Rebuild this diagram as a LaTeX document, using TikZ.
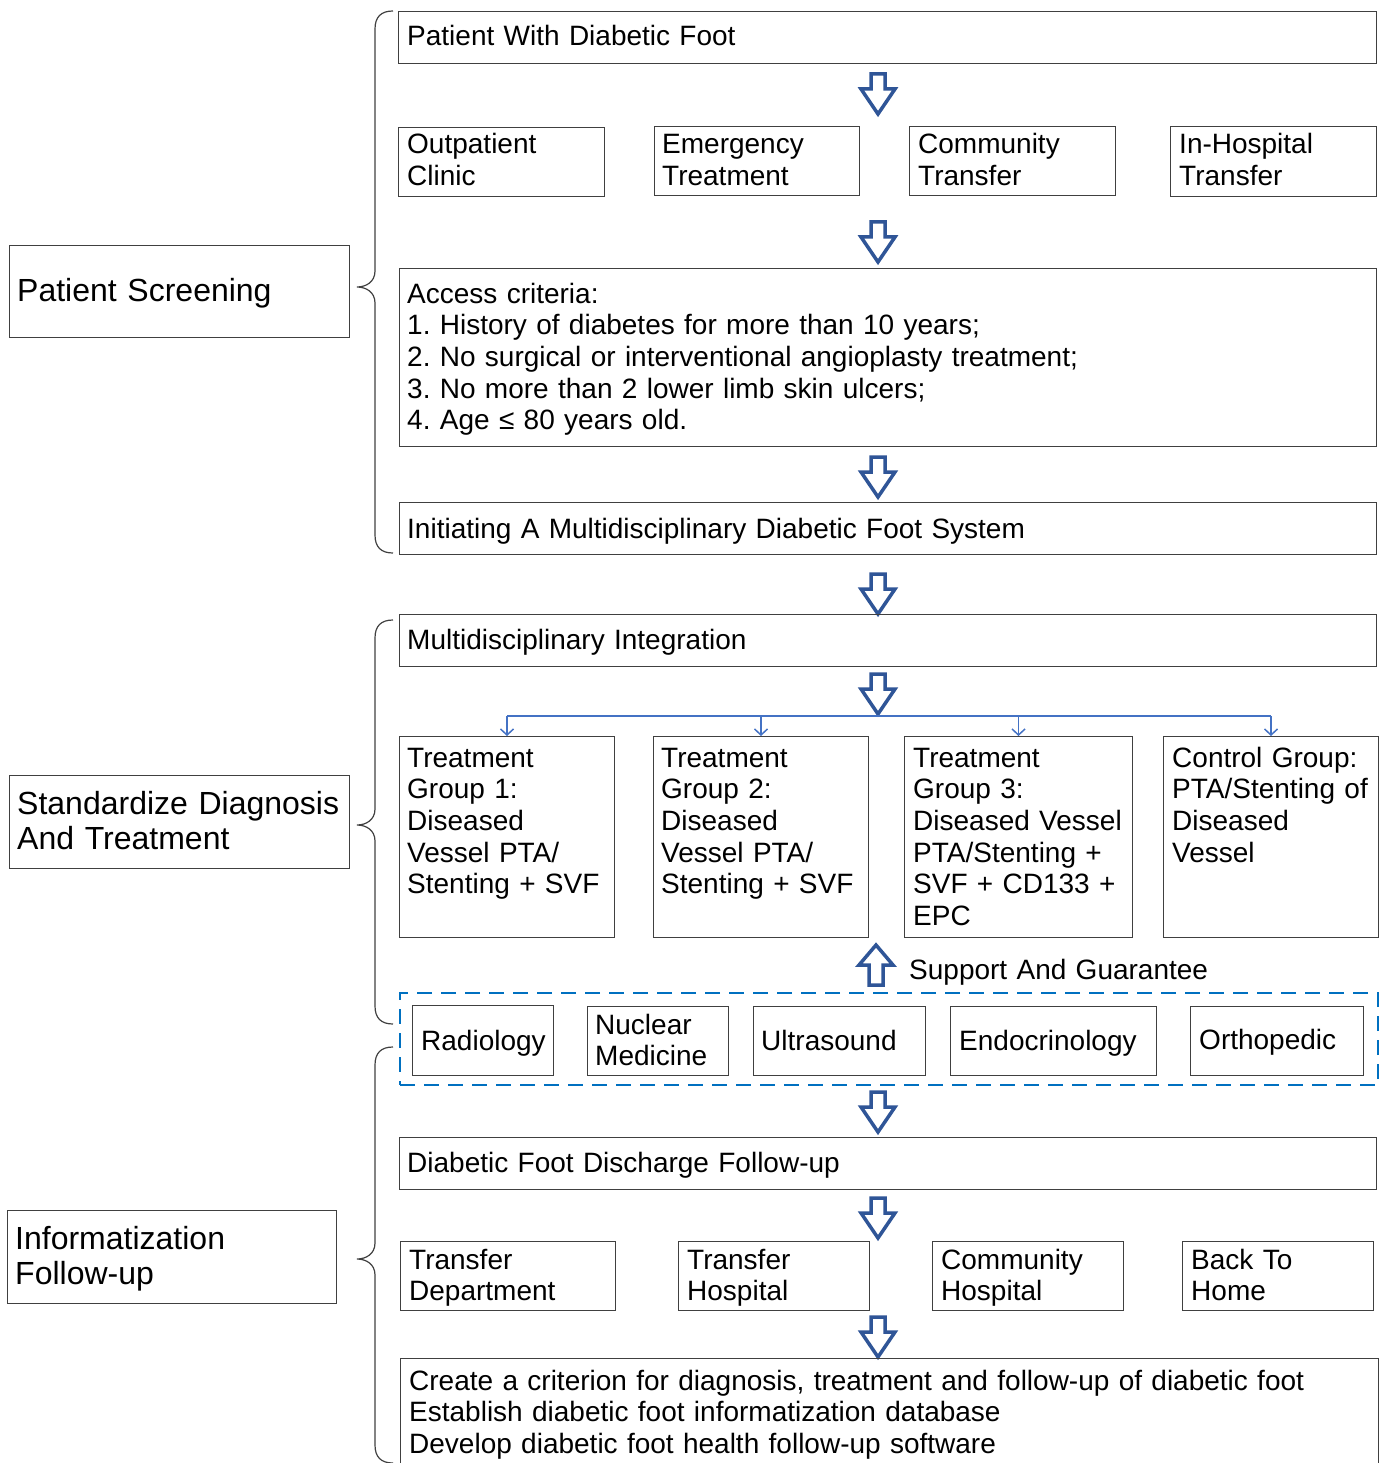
\documentclass[tikz,border=0pt]{standalone}
\usepackage{fontspec}
\setmainfont{Liberation Sans}
\usetikzlibrary{arrows.meta}
\frenchspacing
\definecolor{barrow}{RGB}{47,85,151}
\definecolor{conn}{RGB}{68,114,196}
\definecolor{dashblue}{RGB}{0,112,192}
\definecolor{edgecol}{RGB}{64,64,64}
\tikzset{
  box/.style={draw=edgecol, line width=1pt, inner sep=0pt, anchor=north west},
  txt/.style={inner sep=0pt, align=left, text width=1000pt, anchor=base west, font=\fontsize{28}{31.7}\selectfont\frenchspacing},
  lbl/.style={inner sep=0pt, align=left, text width=400pt, anchor=base west, font=\fontsize{32}{35}\selectfont\frenchspacing},
  blk/.style={draw=barrow, line width=3.5pt, line join=miter},
  bracepath/.style={draw=edgecol, line width=1.2pt},
  branch/.style={draw=conn, line width=1.5pt},
  dropline/.style={draw=conn, line width=1.5pt, -{Straight Barb[length=6pt,width=13pt]}},
  dashframe/.style={draw=dashblue, line width=2pt, dash pattern=on 15pt off 9pt},
}
\newcommand\bx[5]{\node[box, minimum width={#4-#2}, minimum height={#5-#3}] (#1) at (#2,#3) {};}
\newcommand\tx[4]{\node[txt] (#1) at (#2,#3) {#4};}
\newcommand\lb[4]{\node[lbl] (#1) at (#2,#3) {#4};}
\newcommand\dnarr[3]{\coordinate (#1) at (#2,#3);
  \draw[blk] (#1) ++(-7,0) -- ++(0,15) -- ++(-10,0) -- ++(17,25) -- ++(17,-25) -- ++(-10,0) -- ++(0,-15) -- cycle;}
\newcommand\brc[3]{\draw[bracepath] (393,#1) .. controls (381,#1) and (375,#1+6) .. (375,#1+18) -- (375,#2-16) .. controls (375,#2-5) and (366,#2) .. (357,#2) .. controls (366,#2) and (375,#2+5) .. (375,#2+16) -- (375,#3-18) .. controls (375,#3-6) and (381,#3) .. (393,#3);}
\begin{document}
\begin{tikzpicture}[x=1pt,y=-1pt]
\useasboundingbox (0,0) rectangle (1387,1463);
% left labels
\bx{ps}{9}{245}{349}{337}
\lb{psT}{17}{301}{Patient Screening}
\bx{sdt}{9}{775}{349}{868}
\lb{sdtT}{17}{814}{Standardize Diagnosis\\And Treatment}
\bx{ifu}{7}{1210}{336}{1303}
\lb{ifuT}{15}{1249}{Informatization\\Follow-up}
% braces
\brc{11}{287}{553}
\brc{620}{825}{1024}
\brc{1047}{1259}{1463}
% section 1
\bx{pwdf}{398}{11}{1376}{63}
\tx{pwdfT}{407}{46}{Patient With Diabetic Foot}
\dnarr{a1}{878}{74}
\bx{oc}{398}{127}{604}{196}
\tx{ocT}{407}{154}{Outpatient\\Clinic}
\bx{et}{654}{126}{859}{195}
\tx{etT}{662}{154}{Emergency\\Treatment}
\bx{ct}{909}{126}{1115}{195}
\tx{ctT}{918}{154}{Community\\Transfer}
\bx{iht}{1170}{126}{1376}{196}
\tx{ihtT}{1179}{154}{In-Hospital\\Transfer}
\dnarr{a2}{878}{222}
\bx{ac}{399}{268}{1376}{446}
\tx{acT}{407}{303}{Access criteria:\\1. History of diabetes for more than 10 years;\\2. No surgical or interventional angioplasty treatment;\\3. No more than 2 lower limb skin ulcers;\\4. Age ≤ 80 years old.}
\dnarr{a3}{878}{457}
\bx{imd}{399}{502}{1376}{554}
\tx{imdT}{407}{538}{Initiating A Multidisciplinary Diabetic Foot System}
\dnarr{a4}{878}{574}
% section 2
\bx{mi}{399}{614}{1376}{666}
\tx{miT}{407}{649}{Multidisciplinary Integration}
\dnarr{a5}{878}{674}
\bx{tg1}{399}{736}{614}{937}
\tx{tg1T}{407}{767}{Treatment\\Group 1:\\Diseased\\Vessel PTA/\\Stenting + SVF}
\bx{tg2}{653}{736}{868}{937}
\tx{tg2T}{661}{767}{Treatment\\Group 2:\\Diseased\\Vessel PTA/\\Stenting + SVF}
\bx{tg3}{904}{736}{1132}{937}
\tx{tg3T}{913}{767}{Treatment\\Group 3:\\Diseased Vessel\\PTA/Stenting +\\SVF + CD133 +\\EPC}
\bx{cg}{1163}{736}{1378}{937}
\tx{cgT}{1172}{767}{Control Group:\\PTA/Stenting of\\Diseased\\Vessel}
\coordinate (brY) at (0,716);
\draw[branch] (tg1.north |- brY) -- (cg.north |- brY);
\draw[dropline] (tg1.north |- brY) -- (tg1.north);
\draw[dropline] (tg2.north |- brY) -- (tg2.north);
\draw[dropline] (tg3.north |- brY) -- (tg3.north);
\draw[dropline] (cg.north |- brY) -- (cg.north);
% support arrow
\coordinate (up) at (876,985);
\draw[blk] (up) ++(-7,0) -- ++(0,-20) -- ++(-10,0) -- ++(17,-20) -- ++(17,20) -- ++(-10,0) -- ++(0,20) -- cycle;
\tx{sgT}{909}{979}{Support And Guarantee}
% departments
\node[dashframe, anchor=north west, inner sep=0pt, minimum width=978, minimum height=92] (dept) at (399,992) {};
\bx{rad}{412}{1005}{553}{1075}
\tx{radT}{421}{1050}{Radiology}
\bx{nm}{587}{1006}{728}{1075}
\tx{nmT}{595}{1034}{Nuclear\\Medicine}
\bx{us}{753}{1006}{925}{1075}
\tx{usT}{761}{1050}{Ultrasound}
\bx{endo}{950}{1006}{1156}{1075}
\tx{endoT}{959}{1050}{Endocrinology}
\bx{orth}{1190}{1006}{1363}{1075}
\tx{orthT}{1199}{1049}{Orthopedic}
\dnarr{a6}{878}{1092}
% section 3
\bx{dfd}{399}{1137}{1376}{1189}
\tx{dfdT}{407}{1172}{Diabetic Foot Discharge Follow-up}
\dnarr{a7}{878}{1198}
\bx{td}{400}{1241}{615}{1310}
\tx{tdT}{409}{1269}{Transfer\\Department}
\bx{th}{678}{1241}{869}{1310}
\tx{thT}{687}{1269}{Transfer\\Hospital}
\bx{ch}{932}{1241}{1123}{1310}
\tx{chT}{941}{1269}{Community\\Hospital}
\bx{bth}{1182}{1241}{1373}{1310}
\tx{bthT}{1191}{1269}{Back To\\Home}
\dnarr{a8}{878}{1317}
\bx{fin}{400}{1358}{1378}{1475}
\tx{finT}{409}{1390}{Create a criterion for diagnosis, treatment and follow-up of diabetic foot\\Establish diabetic foot informatization database\\Develop diabetic foot health follow-up software}
\end{tikzpicture}
\end{document}
